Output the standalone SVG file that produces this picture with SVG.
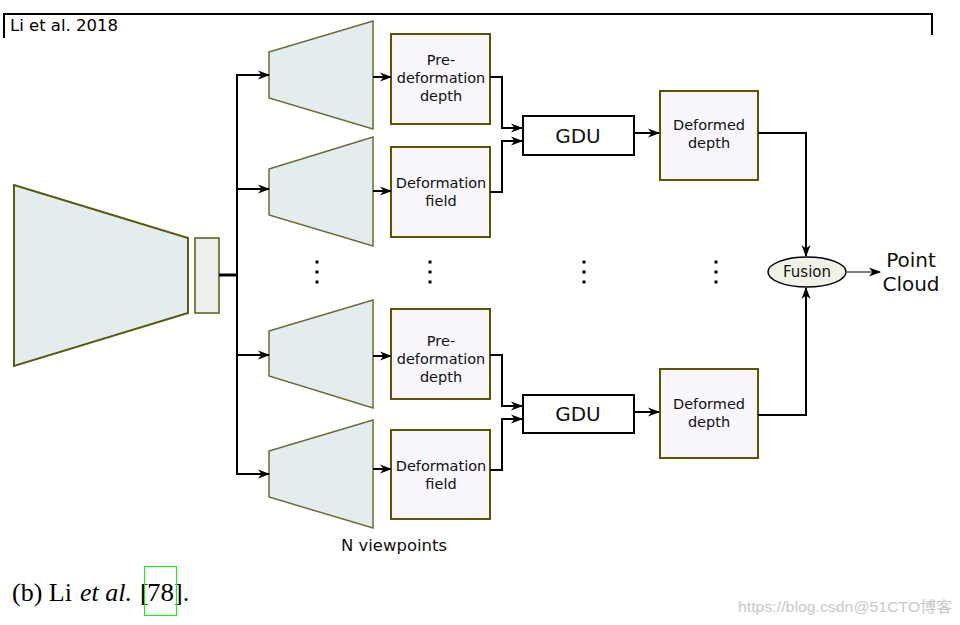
<svg xmlns="http://www.w3.org/2000/svg" width="960" height="625" viewBox="0 0 960 625">
<defs>
<marker id="ah" markerWidth="12" markerHeight="10" refX="11" refY="5" orient="auto" markerUnits="userSpaceOnUse">
<path d="M0,0.5 L12,5 L0,9.5 L3.5,5 z" fill="#000"/>
</marker>
</defs>
<style>
.txt{font-family:"DejaVu Sans",Verdana,sans-serif;fill:#111;text-anchor:middle}
.box{fill:#f8f6fb;stroke:#5c5200;stroke-width:2}
.trap{fill:#e3eded;stroke:#6b6b3a;stroke-width:1.5}
.gdu{fill:#fff;stroke:#000;stroke-width:2}
.con{fill:none;stroke:#000;stroke-width:2}
.dot{fill:#000}
.serif{font-family:'Liberation Serif','Times New Roman',serif;font-size:26px;fill:#000}
</style>
<rect width="960" height="625" fill="#fff"/>
<g id="frame">
<path d="M4,38 V14 H932 V35" fill="none" stroke="#000" stroke-width="2"/>
<text x="10" y="31" textLength="108" lengthAdjust="spacingAndGlyphs" style="font-family:'DejaVu Sans Condensed','DejaVu Sans',sans-serif;font-size:16px;fill:#000">Li et al. 2018</text>
</g>
<g id="encoder">
<polygon class="trap" points="14,185 188,238 188,313 14,366" style="stroke:#5a5a10;stroke-width:2"/>
</g>
<g id="latent">
<rect x="195" y="238" width="24" height="75" fill="#eeeeee" stroke="#5a5a10" stroke-width="1.5"/>
</g>
<g id="dec1"><polygon class="trap" points="269,52 373,21 373,129 269,98"/></g>
<g id="dec2"><polygon class="trap" points="269,169 373,137 373,246 269,215"/></g>
<g id="dec3"><polygon class="trap" points="269,331 373,300 373,408 269,376"/></g>
<g id="dec4"><polygon class="trap" points="269,451 373,420 373,528 269,497"/></g>
<g id="predepth1"><rect class="box" x="391" y="34" width="99" height="90"/>
<text class="txt" style="font-size:14.5px"><tspan x="441" y="65">Pre-</tspan><tspan x="441" y="83">deformation</tspan><tspan x="441" y="101">depth</tspan></text></g>
<g id="field1"><rect class="box" x="391" y="147" width="99" height="90"/>
<text class="txt" style="font-size:14.5px"><tspan x="441" y="188">Deformation</tspan><tspan x="441" y="206">field</tspan></text></g>
<g id="predepth2"><rect class="box" x="391" y="309" width="99" height="90"/>
<text class="txt" style="font-size:14.5px"><tspan x="441" y="346">Pre-</tspan><tspan x="441" y="364">deformation</tspan><tspan x="441" y="382">depth</tspan></text></g>
<g id="field2"><rect class="box" x="391" y="430" width="99" height="89"/>
<text class="txt" style="font-size:14.5px"><tspan x="441" y="471">Deformation</tspan><tspan x="441" y="489">field</tspan></text></g>
<g id="gdu1"><rect class="gdu" x="523" y="116" width="111" height="39"/>
<text class="txt" x="578" y="143" style="font-size:20px">GDU</text></g>
<g id="gdu2"><rect class="gdu" x="523" y="395" width="111" height="38"/>
<text class="txt" x="578" y="421" style="font-size:20px">GDU</text></g>
<g id="deformed1"><rect class="box" x="660" y="91" width="98" height="89"/>
<text class="txt" style="font-size:14.5px"><tspan x="709" y="130">Deformed</tspan><tspan x="709" y="148">depth</tspan></text></g>
<g id="deformed2"><rect class="box" x="660" y="369" width="98" height="89"/>
<text class="txt" style="font-size:14.5px"><tspan x="709" y="409">Deformed</tspan><tspan x="709" y="427">depth</tspan></text></g>
<g id="fusion"><ellipse cx="807" cy="272" rx="39" ry="15" fill="#f2f1e8" stroke="#000" stroke-width="1.5"/>
<text class="txt" x="807" y="277" style="font-size:15px">Fusion</text></g>
<g id="pointcloud"><text class="txt" style="font-size:20px"><tspan x="911" y="267">Point</tspan><tspan x="911" y="291">Cloud</tspan></text></g>
<g id="connectors">
<line x1="219" y1="275" x2="237" y2="275" stroke="#000" stroke-width="3"/>
<line x1="237" y1="74" x2="237" y2="475" stroke="#000" stroke-width="2"/>
<line class="con" x1="237" y1="75" x2="269" y2="75" marker-end="url(#ah)"/>
<line class="con" x1="237" y1="189" x2="269" y2="189" marker-end="url(#ah)"/>
<line class="con" x1="237" y1="355" x2="269" y2="355" marker-end="url(#ah)"/>
<line class="con" x1="237" y1="474" x2="269" y2="474" marker-end="url(#ah)"/>
<line class="con" x1="373" y1="77" x2="391" y2="77" marker-end="url(#ah)"/>
<line class="con" x1="373" y1="191" x2="391" y2="191" marker-end="url(#ah)"/>
<line class="con" x1="373" y1="356" x2="391" y2="356" marker-end="url(#ah)"/>
<line class="con" x1="373" y1="469" x2="391" y2="469" marker-end="url(#ah)"/>
<path class="con" d="M490,77 H502 V128 H522" marker-end="url(#ah)"/>
<path class="con" d="M490,192 H502 V141 H522" marker-end="url(#ah)"/>
<path class="con" d="M490,355 H502 V406 H522" marker-end="url(#ah)"/>
<path class="con" d="M490,470 H502 V419 H522" marker-end="url(#ah)"/>
<line class="con" x1="634" y1="133" x2="659" y2="133" marker-end="url(#ah)"/>
<line class="con" x1="634" y1="412" x2="659" y2="412" marker-end="url(#ah)"/>
<path class="con" d="M758,133 H806 V256" marker-end="url(#ah)"/>
<path class="con" d="M758,415 H806 V288" marker-end="url(#ah)"/>
<line x1="846" y1="272" x2="880" y2="272" stroke="#555" stroke-width="1.5" marker-end="url(#ah)"/>
</g>
<g id="dots">
<rect class="dot" x="315.5" y="260.5" width="3" height="3"/><rect class="dot" x="315.5" y="270.5" width="3" height="3"/><rect class="dot" x="315.5" y="280.5" width="3" height="3"/>
<rect class="dot" x="428.5" y="260.5" width="3" height="3"/><rect class="dot" x="428.5" y="270.5" width="3" height="3"/><rect class="dot" x="428.5" y="280.5" width="3" height="3"/>
<rect class="dot" x="582.5" y="260.5" width="3" height="3"/><rect class="dot" x="582.5" y="270.5" width="3" height="3"/><rect class="dot" x="582.5" y="280.5" width="3" height="3"/>
<rect class="dot" x="714.5" y="260.5" width="3" height="3"/><rect class="dot" x="714.5" y="270.5" width="3" height="3"/><rect class="dot" x="714.5" y="280.5" width="3" height="3"/>
</g>
<text x="341" y="551" textLength="106" lengthAdjust="spacingAndGlyphs" style="font-family:'DejaVu Sans Condensed','DejaVu Sans',sans-serif;font-size:15px;fill:#111">N viewpoints</text>
<g id="caption">
<text class="serif" x="12" y="601">(b) Li</text>
<text class="serif" x="80" y="601" font-style="italic">et al.</text>
<text class="serif" x="140" y="601">[</text>
<text class="serif" x="147" y="601" textLength="27" lengthAdjust="spacingAndGlyphs">78</text>
<text class="serif" x="174" y="601">].</text>
<rect x="144.5" y="566.5" width="32" height="49" fill="none" stroke="#00ff00" stroke-width="1"/>
</g>
<text x="738" y="612" textLength="214" lengthAdjust="spacingAndGlyphs" style="font-family:'Liberation Sans','Noto Sans CJK SC',sans-serif;font-size:15px;fill:#c8c8c8">https://blog.csdn@51CTO博客</text>
</svg>
